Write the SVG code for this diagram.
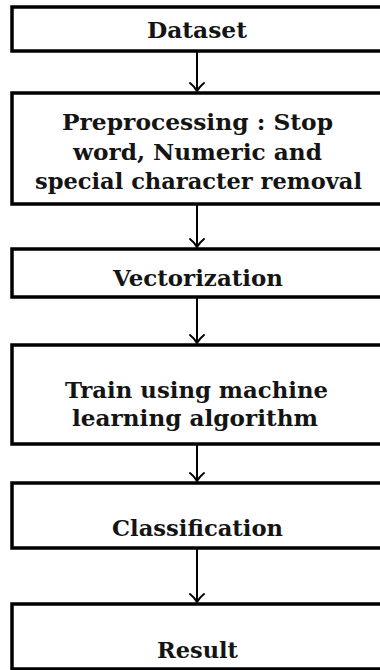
<svg xmlns="http://www.w3.org/2000/svg" width="380" height="670" viewBox="0 0 380 670">
<defs>
<style>
.box{fill:#fff;stroke:#000;stroke-width:3.5}
.lbl{font-family:"DejaVu Serif","Liberation Serif",serif;font-weight:bold;font-size:23px;fill:#141414;text-anchor:middle}
.con line{stroke:#000;stroke-width:2}
.con path{fill:none;stroke:#000;stroke-width:2;stroke-linecap:round;stroke-linejoin:round}
</style>
</defs>
<rect width="380" height="670" fill="#fff"/>
<g id="dataset">
<rect class="box" x="12" y="7" width="380" height="44"/>
<text class="lbl" x="197" y="37.5" textLength="100" lengthAdjust="spacingAndGlyphs">Dataset</text>
</g>
<g id="preprocessing">
<rect class="box" x="12" y="93" width="380" height="111"/>
<text class="lbl" x="197.5" y="129.5" textLength="271" lengthAdjust="spacingAndGlyphs">Preprocessing : Stop</text>
<text class="lbl" x="197.5" y="159.5" textLength="249" lengthAdjust="spacingAndGlyphs">word, Numeric and</text>
<text class="lbl" x="198.5" y="188.5" textLength="327" lengthAdjust="spacingAndGlyphs">special character removal</text>
</g>
<g id="vectorization">
<rect class="box" x="12" y="249" width="380" height="48"/>
<text class="lbl" x="198" y="285.5" textLength="170" lengthAdjust="spacingAndGlyphs">Vectorization</text>
</g>
<g id="train">
<rect class="box" x="12" y="345" width="380" height="99"/>
<text class="lbl" x="196.5" y="397.5" textLength="263" lengthAdjust="spacingAndGlyphs">Train using machine</text>
<text class="lbl" x="195" y="425.5" textLength="246" lengthAdjust="spacingAndGlyphs">learning algorithm</text>
</g>
<g id="classification">
<rect class="box" x="12" y="483" width="380" height="65"/>
<text class="lbl" x="197.5" y="535.5" textLength="171" lengthAdjust="spacingAndGlyphs">Classification</text>
</g>
<g id="result">
<rect class="box" x="12" y="604" width="380" height="65"/>
<text class="lbl" x="197.5" y="657.5" textLength="81" lengthAdjust="spacingAndGlyphs">Result</text>
</g>
<g id="connectors" class="con">
<line x1="197" y1="52" x2="197" y2="91"/>
<path d="M190,83 Q194.5,86.5 197,91 Q199.5,86.5 204,83"/>
<line x1="197" y1="205" x2="197" y2="247"/>
<path d="M190,239 Q194.5,242.5 197,247 Q199.5,242.5 204,239"/>
<line x1="197" y1="298" x2="197" y2="343"/>
<path d="M190,335 Q194.5,338.5 197,343 Q199.5,338.5 204,335"/>
<line x1="197" y1="445" x2="197" y2="481"/>
<path d="M190,473 Q194.5,476.5 197,481 Q199.5,476.5 204,473"/>
<line x1="197" y1="549" x2="197" y2="602"/>
<path d="M190,594 Q194.5,597.5 197,602 Q199.5,597.5 204,594"/>
</g>
</svg>
